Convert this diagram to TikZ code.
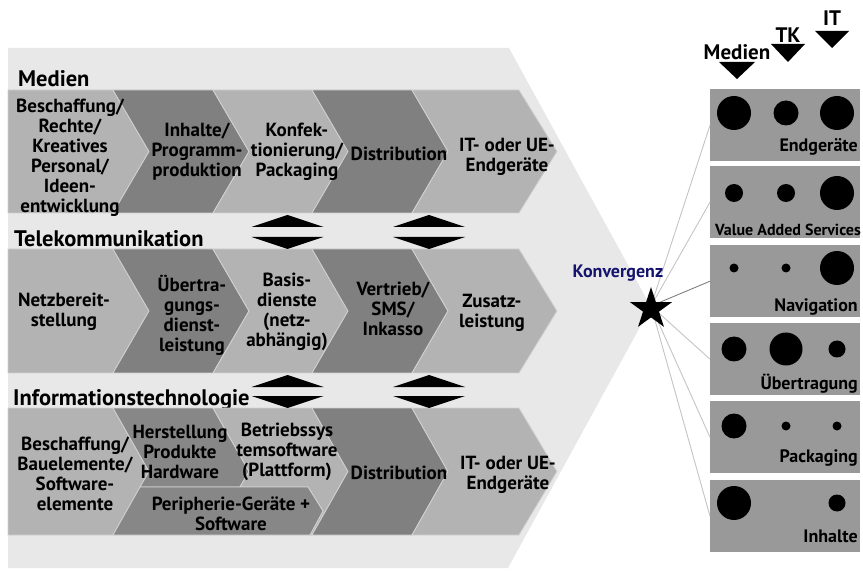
\documentclass[tikz,border=0pt]{standalone}
\usepackage{fontspec}
\setmainfont{PT Sans}
\usetikzlibrary{shapes.geometric}
\definecolor{bg}{HTML}{E8E8E8}
\definecolor{lite}{HTML}{B3B3B3}
\definecolor{dark}{HTML}{808080}
\definecolor{darkb}{HTML}{878787}
\definecolor{boxg}{HTML}{999999}
\definecolor{segline}{HTML}{D2D2D2}
\definecolor{navy}{HTML}{14146E}
\definecolor{conn}{HTML}{C4C4C4}
\newcommand\chevseg[6]{%
  \fill[#5, draw=segline, line width=0.8pt] (#1,#3) -- (#2,#3) -- ({#2+36},{(#3+#4)/2}) -- (#2,#4) -- (#1,#4) -- ({#1+#6},{(#3+#4)/2}) -- cycle;}
\begin{document}
\begin{tikzpicture}[x=1pt,y=-1pt,
  segtxt/.style={font=\bfseries\fontsize{19}{20}\selectfont, align=center, inner sep=0pt},
  rowtitle/.style={font=\bfseries\fontsize{22.5}{24}\selectfont, anchor=base west, inner sep=0pt},
  boxlabel/.style={font=\bfseries\fontsize{18}{20}\selectfont, anchor=base east, inner sep=0pt},
  panel/.style={fill=boxg, minimum width=150pt, minimum height=72pt, inner sep=0pt, anchor=north west},
  toplabel/.style={font=\bfseries\fontsize{21}{24}\selectfont, inner sep=0pt},
  connline/.style={draw=conn, line width=0.9pt},
  arrowtri/.style={fill=black}]
\useasboundingbox (0,0) rectangle (863,572);
% background arrow
\fill[bg] (8,48) -- (509,48) -- (651,307) -- (508,568) -- (8,568) -- cycle;

% ---------- Medien row ----------
\node[rowtitle] (tmed) at (18,87) {Medien};
\chevseg{8}{113}{90}{213}{lite}{0}
\chevseg{113}{213}{90}{213}{dark}{36}
\chevseg{213}{312}{90}{213}{lite}{36}
\chevseg{312}{412}{90}{213}{dark}{36}
\fill[lite, draw=segline, line width=0.8pt] (412,90) -- (519,90) -- (557,151.5) -- (519,213) -- (412,213) -- (448,151.5) -- cycle;
\node[segtxt] (m1) at (70,158) {Beschaffung/\\Rechte/\\Kreatives\\Personal/\\Ideen-\\entwicklung};
\node[segtxt] (m2) at (197,152) {Inhalte/\\Programm-\\produktion};
\node[segtxt] (m3) at (297,152) {Konfek-\\tionierung/\\Packaging};
\node[segtxt] (m4) at (399,154) {Distribution};
\node[segtxt] (m5) at (507,157) {IT- oder UE-\\Endgeräte};

% ---------- Telekommunikation row ----------
\node[rowtitle] (ttk) at (14,247) {Telekommunikation};
\chevseg{8}{113}{249}{373}{lite}{0}
\chevseg{113}{213}{249}{373}{dark}{36}
\chevseg{213}{312}{249}{373}{lite}{36}
\chevseg{312}{412}{249}{373}{dark}{36}
\fill[lite, draw=segline, line width=0.8pt] (412,249) -- (519,249) -- (557,311) -- (519,373) -- (412,373) -- (448,311) -- cycle;
\node[segtxt] (k1) at (64,312) {Netzbereit-\\stellung};
\node[segtxt] (k2) at (192,315) {Übertra-\\gungs-\\dienst-\\leistung};
\node[segtxt] (k3) at (287,312) {Basis-\\dienste\\(netz-\\abhängig)};
\node[segtxt] (k4) at (393,309) {Vertrieb/\\SMS/\\Inkasso};
\node[segtxt] (k5) at (492,313) {Zusatz-\\leistung};

% ---------- Informationstechnologie row ----------
\node[rowtitle] (tit) at (13,406) {Informationstechnologie};
\chevseg{8}{113}{408}{535}{lite}{0}
% Herstellung
\fill[darkb, draw=segline, line width=0.8pt] (113,408) -- (213,408) -- (249,471.5) -- (240,487) -- (140,487) -- (149,471.5) -- cycle;
% Betriebssystemsoftware
\fill[lite, draw=segline, line width=0.8pt] (213,408) -- (312,408) -- (348,471.5) -- (312,535) -- (310,535) -- (323,511) -- (308,487) -- (240,487) -- (249,471.5) -- cycle;
% Peripherie
\fill[darkb, draw=segline, line width=0.8pt] (140,487) -- (308,487) -- (323,511) -- (310,535) -- (113,535) -- cycle;
\chevseg{312}{412}{408}{535}{dark}{36}
\fill[lite, draw=segline, line width=0.8pt] (412,408) -- (519,408) -- (557,471.5) -- (519,535) -- (412,535) -- (448,471.5) -- cycle;
\node[segtxt] (i1) at (75,474) {Beschaffung/\\Bauelemente/\\Software-\\elemente};
\node[segtxt] (i2) at (180,452) {Herstellung\\Produkte\\Hardware};
\node[segtxt] (i3) at (287,452) {Betriebssys\\temsoftware\\(Plattform)};
\node[segtxt] (i4) at (231,514) {Peripherie-Geräte +\\Software};
\node[segtxt] (i5) at (399,473) {Distribution};
\node[segtxt] (i6) at (508,475) {IT- oder UE-\\Endgeräte};

% ---------- double arrows ----------
\foreach \cx in {287.5,429} {
  \fill[arrowtri] ({\cx-36},227) -- ({\cx+36},227) -- (\cx,215) -- cycle;
  \fill[arrowtri] ({\cx-36},237) -- ({\cx+36},237) -- (\cx,249) -- cycle;
  \fill[arrowtri] ({\cx-36},387) -- ({\cx+36},387) -- (\cx,375) -- cycle;
  \fill[arrowtri] ({\cx-36},396) -- ({\cx+36},396) -- (\cx,408) -- cycle;
}

% ---------- right panels ----------
\node[panel] (b1) at (710,89) {};
\node[panel] (b2) at (710,166) {};
\node[panel] (b3) at (710,245) {};
\node[panel] (b4) at (710,323) {};
\node[panel] (b5) at (710,401) {};
\node[panel] (b6) at (710,480) {};

% dots
\fill (734,113) circle[radius=17pt];
\fill (786,113) circle[radius=12.5pt];
\fill (837,113) circle[radius=17pt];
\fill (734,193) circle[radius=9pt];
\fill (786,193) circle[radius=9pt];
\fill (837,193) circle[radius=17pt];
\fill (734,268) circle[radius=4.5pt];
\fill (786,268) circle[radius=4.5pt];
\fill (837,268) circle[radius=17pt];
\fill (734,349) circle[radius=12.5pt];
\fill (786,349) circle[radius=16.5pt];
\fill (837,349) circle[radius=8.5pt];
\fill (734,426) circle[radius=12.5pt];
\fill (786,426) circle[radius=4.5pt];
\fill (837,426) circle[radius=4.5pt];
\fill (734,503) circle[radius=17pt];
\fill (837,503) circle[radius=8.5pt];

\node[boxlabel] (l1) at (858,152) {Endgeräte};
\node[boxlabel, font=\bfseries\fontsize{16}{18}\selectfont] (l2) at (861,236) {Value Added Services};
\node[boxlabel] (l3) at (858,312) {Navigation};
\node[boxlabel] (l4) at (858,389) {Übertragung};
\node[boxlabel] (l5) at (858,462) {Packaging};
\node[boxlabel] (l6) at (858,542) {Inhalte};

% top labels and triangles
\node[toplabel] (hm) at (737,52) {Medien};
\node[toplabel] (htk) at (788,35) {TK};
\node[toplabel] (hit) at (832,18) {IT};
\fill[arrowtri] (719,62) -- (755,62) -- (737,79) -- cycle;
\fill[arrowtri] (771,44) -- (805,44) -- (788,62) -- cycle;
\fill[arrowtri] (815,31) -- (849,31) -- (832,48) -- cycle;

% connectors
\coordinate (cc) at (651,306);
\draw[connline] (cc) -- (b1.west);
\draw[connline] (cc) -- (b2.west);
\draw[connline, draw=dark] (cc) -- (b3.west);
\draw[connline] (cc) -- (b4.west);
\draw[connline] (cc) -- (b5.west);
\draw[connline] (cc) -- (b6.west);

\node[star, star points=5, star point ratio=2.618, fill=black, minimum size=44pt, inner sep=0pt] (conv) at (651,309) {};
\node[font=\bfseries\fontsize{18}{20}\selectfont, text=navy, inner sep=0pt] (konv) at (618,273) {Konvergenz};
\end{tikzpicture}
\end{document}
